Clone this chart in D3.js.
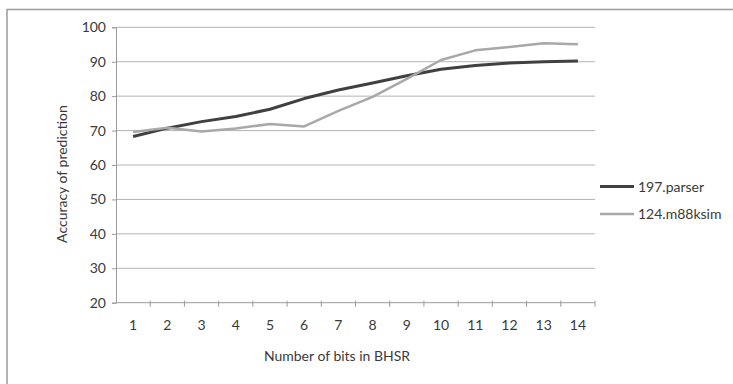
<!DOCTYPE html>
<html>
<head>
<meta charset="utf-8">
<script src="https://cdn.jsdelivr.net/npm/d3@7/dist/d3.min.js"></script>
<style>
  html, body { margin: 0; padding: 0; background: #fff; }
  svg { display: block; }
  text { font-family: Lato, "Open Sans", sans-serif; fill: #3a3a3a; }
</style>
</head>
<body>
<svg id="chart" width="733" height="384"></svg>
<script>
// Branch history shift register size vs. prediction accuracy
const bits = [1, 2, 3, 4, 5, 6, 7, 8, 9, 10, 11, 12, 13, 14];
const parser = [68.3, 70.7, 72.6, 74.1, 76.2, 79.3, 81.8, 83.8, 85.9, 87.8, 88.9, 89.6, 90.0, 90.2];
const m88ksim = [69.6, 70.8, 69.7, 70.6, 71.9, 71.2, 75.7, 79.8, 85.0, 90.5, 93.3, 94.3, 95.4, 95.1];
const yTicks = [20, 30, 40, 50, 60, 70, 80, 90, 100];
const seriesNames = ["197.parser", "124.m88ksim"];
const seriesColors = ["#404040", "#a8a8a8"];
const seriesWidths = [3, 2.5];

const svg = d3.select("#chart");
const plot = { left: 116, right: 595, top: 27.3, bottom: 302.7 };

// chart frame
svg.append("rect")
  .attr("x", 7).attr("y", 9.5)
  .attr("width", 760).attr("height", 420)
  .attr("fill", "none").attr("stroke", "#a0a0a0").attr("stroke-width", 1.6);

const x = d3.scaleBand().domain(bits).range([plot.left, plot.right]).padding(0);
const y = d3.scaleLinear().domain([20, 100]).range([plot.bottom, plot.top]);

// horizontal gridlines
svg.append("g")
  .selectAll("line")
  .data(yTicks.filter(t => t > 20))
  .join("line")
  .attr("x1", plot.left).attr("x2", plot.right)
  .attr("y1", d => y(d)).attr("y2", d => y(d))
  .attr("stroke", "#b4b4b4").attr("stroke-width", 1);

// y axis
const yAxis = d3.axisLeft(y).tickValues(yTicks).tickSize(4).tickPadding(6);
const gy = svg.append("g").attr("transform", `translate(${plot.left},0)`).call(yAxis);
gy.select(".domain").attr("stroke", "#9a9a9a");
gy.selectAll(".tick line").attr("stroke", "#9a9a9a");
gy.selectAll(".tick text").style("font-size", "14px").attr("fill", "#3a3a3a");

// x axis: labels centered in bands, ticks on band boundaries
const gx = svg.append("g").attr("transform", `translate(0,${plot.bottom})`);
gx.append("line")
  .attr("x1", plot.left).attr("x2", plot.right)
  .attr("stroke", "#9a9a9a");
gx.selectAll("line.tk")
  .data(bits.slice(1).concat(["end"]))
  .join("line").attr("class", "tk")
  .attr("x1", (d, i) => i < bits.length - 1 ? x(d) : plot.right)
  .attr("x2", (d, i) => i < bits.length - 1 ? x(d) : plot.right)
  .attr("y1", -2).attr("y2", 4)
  .attr("stroke", "#9a9a9a");
gx.selectAll("text")
  .data(bits)
  .join("text")
  .attr("x", d => x(d) + x.bandwidth() / 2)
  .attr("y", 27)
  .attr("text-anchor", "middle")
  .style("font-size", "14px")
  .text(d => d);

// series lines
const line = d3.line()
  .x((d, i) => x(bits[i]) + x.bandwidth() / 2)
  .y(d => y(d));
[parser, m88ksim].forEach((vals, k) => {
  svg.append("path")
    .datum(vals)
    .attr("d", line)
    .attr("fill", "none")
    .attr("stroke", seriesColors[k])
    .attr("stroke-width", seriesWidths[k])
    .attr("stroke-linejoin", "round");
});

// axis titles
svg.append("text")
  .attr("transform", "translate(67,174) rotate(-90)")
  .attr("text-anchor", "middle")
  .style("font-size", "14px")
  .text("Accuracy of prediction");
svg.append("text")
  .attr("x", 337).attr("y", 361)
  .attr("text-anchor", "middle")
  .style("font-size", "14px")
  .text("Number of bits in BHSR");

// legend
const legend = svg.append("g");
seriesNames.forEach((name, k) => {
  const ly = 186.5 + k * 27.5;
  legend.append("line")
    .attr("x1", 600).attr("x2", 634)
    .attr("y1", ly).attr("y2", ly)
    .attr("stroke", seriesColors[k]).attr("stroke-width", seriesWidths[k]);
  legend.append("text")
    .attr("x", 638).attr("y", ly + 5)
    .style("font-size", "14px")
    .text(name);
});
</script>
</body>
</html>
